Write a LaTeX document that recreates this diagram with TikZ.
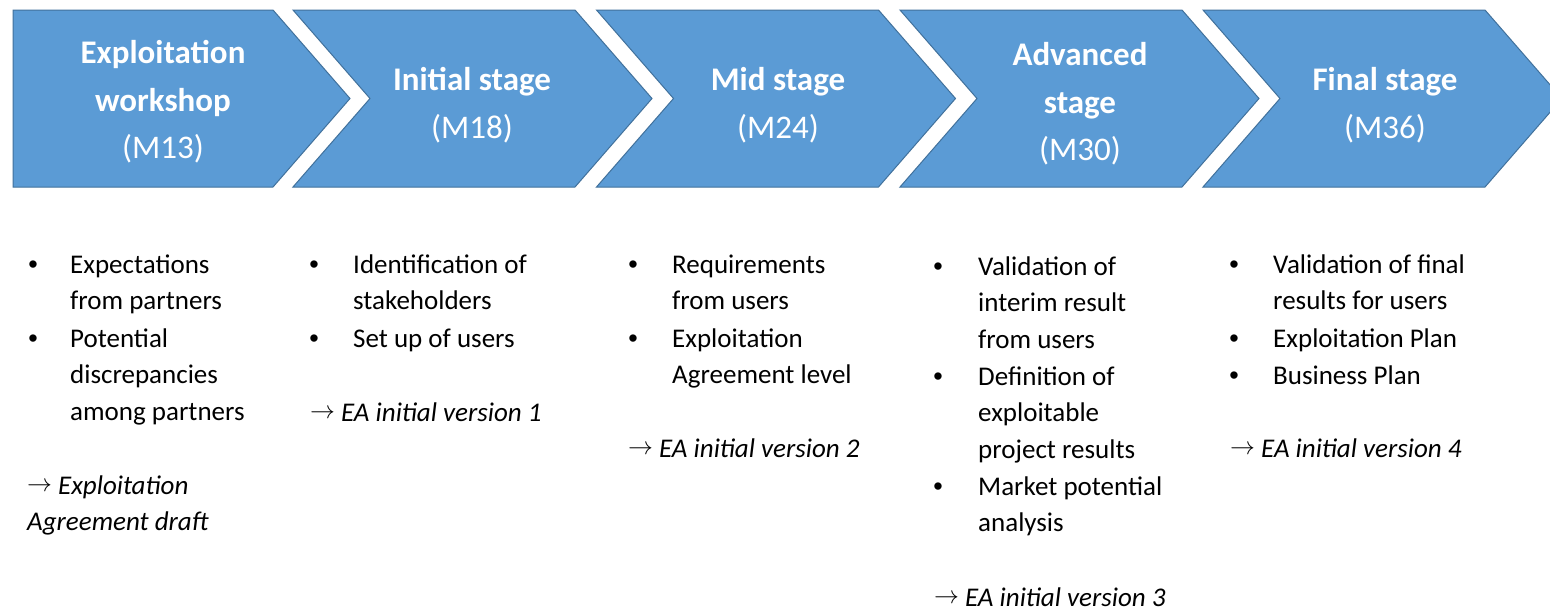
\documentclass[tikz,border=0pt]{standalone}
\usepackage{fontspec}
\setmainfont{Carlito}
\newfontfamily\bulletfont{Liberation Sans}
\definecolor{chev}{HTML}{5B9BD5}
\definecolor{chevline}{HTML}{41719C}
\newcommand\toarr{{\fontsize{24}{36.7}\selectfont\raisebox{2.5pt}{$\rightarrow$}}\hspace{6pt}}
\begin{document}
\begin{tikzpicture}[x=1pt,y=-1pt,
 chevron/.style={fill=chev,draw=chevline,line width=1pt,line join=miter},
 title/.style={text=white,font=\fontsize{33}{47.5}\selectfont\bfseries,align=center,anchor=base,inner sep=0},
 sub/.style={text=white,font=\fontsize{33}{47.5}\selectfont,anchor=base,inner sep=0},
 body/.style={font=\fontsize{27}{36.7}\selectfont,align=left,anchor=base west,inner sep=0},
 bul/.style={font=\bulletfont\fontsize{27}{36.7}\selectfont,anchor=base,inner sep=0},
 res/.style={font=\fontsize{27}{36.7}\selectfont\itshape,align=left,anchor=base west,inner sep=0}]
\useasboundingbox (0,0) rectangle (1550,611);
\clip (0,0) rectangle (1550,611);
\fill[white] (0,0) rectangle (1550,611);
% chevrons
\draw[chevron] (13,10) -- (273,10) -- (350,98.5) -- (273,187) -- (13,187) -- cycle;
\foreach \L in {293,596.5,900,1203}{
 \draw[chevron] (\L,10) -- (\L+282,10) -- (\L+359,98.5) -- (\L+282,187) -- (\L,187) -- (\L+77,98.5) -- cycle;
}
% titles (base anchor = last line)
\node[title] (t1) at (163,111) {Exploitation\\workshop};
\node[sub] (m1) at (163,158) {(M13)};
\node[title] (t2) at (472,90) {Initial stage};
\node[sub] (m2) at (472,138) {(M18)};
\node[title] (t3) at (778,90) {Mid stage};
\node[sub] (m3) at (778,138) {(M24)};
\node[title] (t4) at (1080,113) {Advanced\\stage};
\node[sub] (m4) at (1080,160) {(M30)};
\node[title] (t5) at (1385,90) {Final stage};
\node[sub] (m5) at (1385,138) {(M36)};
% column 1
\node[bul] (b11) at (33,273) {•};
\node[body] (i11) at (70,309.7) {Expectations\\from partners};
\node[bul] (b12) at (33,347) {•};
\node[body] (i12) at (70,420.4) {Potential\\discrepancies\\among partners};
\node[res] (r1) at (27,530.7) {\toarr Exploitation\\Agreement draft};
% column 2
\node[bul] (b21) at (314,273) {•};
\node[body] (i21) at (353,309.7) {Identification of\\stakeholders};
\node[bul] (b22) at (314,347) {•};
\node[body] (i22) at (353,347) {Set up of users};
\node[res] (r2) at (310,421) {\toarr EA initial version 1};
% column 3
\node[bul] (b31) at (633,273) {•};
\node[body] (i31) at (672,309.7) {Requirements\\from users};
\node[bul] (b32) at (633,347) {•};
\node[body] (i32) at (672,383.7) {Exploitation\\Agreement level};
\node[res] (r3) at (628,457) {\toarr EA initial version 2};
% column 4
\node[bul] (b41) at (938,275) {•};
\node[body] (i41) at (978,348.4) {Validation of\\interim result\\from users};
\node[bul] (b42) at (938,385) {•};
\node[body] (i42) at (978,458.4) {Definition of\\exploitable\\project results};
\node[bul] (b43) at (938,495) {•};
\node[body] (i43) at (978,531.7) {Market potential\\analysis};
\node[res] (r4) at (934,606) {\toarr EA initial version 3};
% column 5
\node[bul] (b51) at (1234,273) {•};
\node[body] (i51) at (1273,309.7) {Validation of final\\results for users};
\node[bul] (b52) at (1234,347) {•};
\node[body] (i52) at (1273,347) {Exploitation Plan};
\node[bul] (b53) at (1234,384) {•};
\node[body] (i53) at (1273,384) {Business Plan};
\node[res] (r5) at (1230,457) {\toarr EA initial version 4};
\end{tikzpicture}
\end{document}
